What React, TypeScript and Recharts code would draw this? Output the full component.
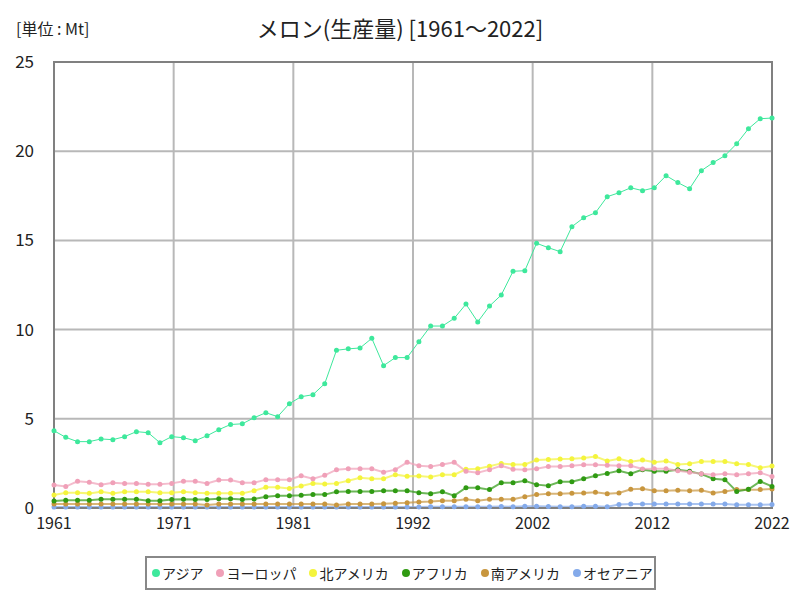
import React from 'react'
import { LineChart, Line, XAxis, YAxis, CartesianGrid, ReferenceArea } from 'recharts'

const YEARS = [
  1961, 1962, 1963, 1964, 1965, 1966, 1967, 1968, 1969, 1970,
  1971, 1972, 1973, 1974, 1975, 1976, 1977, 1978, 1979, 1980,
  1981, 1982, 1983, 1984, 1985, 1986, 1987, 1988, 1989, 1990,
  1991, 1992, 1993, 1994, 1995, 1996, 1997, 1998, 1999, 2000,
  2001, 2002, 2003, 2004, 2005, 2006, 2007, 2008, 2009, 2010,
  2011, 2012, 2013, 2014, 2015, 2016, 2017, 2018, 2019, 2020,
  2021, 2022
]

const ASIA = [
  4.33, 3.96, 3.72, 3.72, 3.87, 3.83, 4.0, 4.28, 4.22, 3.66,
  4.0, 3.94, 3.77, 4.05, 4.39, 4.68, 4.72, 5.06, 5.34, 5.12,
  5.85, 6.24, 6.35, 6.97, 8.84, 8.92, 8.97, 9.51, 7.98, 8.43,
  8.43, 9.32, 10.2, 10.2, 10.63, 11.43, 10.43, 11.32, 11.94, 13.27,
  13.3, 14.84, 14.59, 14.37, 15.77, 16.27, 16.55, 17.45, 17.67, 17.95,
  17.79, 17.95, 18.63, 18.24, 17.9, 18.91, 19.36, 19.75, 20.42, 21.26,
  21.82, 21.86
]

const EUROPE = [
  1.29, 1.2, 1.5, 1.44, 1.31, 1.42, 1.37, 1.37, 1.33, 1.33,
  1.38, 1.5, 1.5, 1.37, 1.57, 1.57, 1.42, 1.42, 1.59, 1.59,
  1.59, 1.81, 1.64, 1.83, 2.15, 2.2, 2.2, 2.2, 2.0, 2.15,
  2.56, 2.37, 2.32, 2.44, 2.56, 2.06, 1.98, 2.15, 2.37, 2.17,
  2.15, 2.2, 2.32, 2.32, 2.37, 2.42, 2.42, 2.39, 2.37, 2.37,
  2.19, 2.2, 2.2, 2.09, 2.0, 1.92, 1.87, 1.92, 1.87, 1.92,
  1.98, 1.76
]

const NORTH_AMERICA = [
  0.73, 0.86, 0.86, 0.82, 0.91, 0.82, 0.91, 0.91, 0.91, 0.86,
  0.86, 0.91, 0.86, 0.82, 0.82, 0.82, 0.82, 0.97, 1.16, 1.16,
  1.1, 1.23, 1.38, 1.34, 1.38, 1.53, 1.7, 1.64, 1.64, 1.87,
  1.78, 1.79, 1.74, 1.87, 1.87, 2.17, 2.2, 2.34, 2.5, 2.44,
  2.44, 2.69, 2.72, 2.74, 2.76, 2.8, 2.88, 2.64, 2.76, 2.6,
  2.69, 2.56, 2.64, 2.44, 2.48, 2.6, 2.6, 2.6, 2.48, 2.44,
  2.26, 2.35
]

const AFRICA = [
  0.39, 0.43, 0.43, 0.43, 0.49, 0.49, 0.49, 0.49, 0.41, 0.41,
  0.47, 0.49, 0.47, 0.47, 0.52, 0.52, 0.47, 0.5, 0.63, 0.69,
  0.69, 0.71, 0.75, 0.75, 0.91, 0.93, 0.93, 0.93, 0.97, 0.97,
  0.97, 0.86, 0.8, 0.91, 0.69, 1.14, 1.14, 1.03, 1.42, 1.42,
  1.53, 1.31, 1.25, 1.47, 1.47, 1.64, 1.81, 1.94, 2.09, 1.92,
  2.15, 2.06, 2.06, 2.15, 2.06, 1.9, 1.64, 1.59, 0.93, 1.05,
  1.49, 1.21
]

const SOUTH_AMERICA = [
  0.22, 0.22, 0.22, 0.22, 0.22, 0.22, 0.22, 0.22, 0.22, 0.22,
  0.22, 0.22, 0.22, 0.17, 0.22, 0.22, 0.22, 0.22, 0.22, 0.22,
  0.22, 0.22, 0.22, 0.22, 0.17, 0.22, 0.22, 0.22, 0.24, 0.27,
  0.29, 0.33, 0.36, 0.41, 0.41, 0.49, 0.41, 0.49, 0.49, 0.49,
  0.63, 0.75, 0.8, 0.8, 0.82, 0.84, 0.88, 0.8, 0.84, 1.05,
  1.08, 0.97, 0.97, 1.0, 0.97, 1.0, 0.84, 0.93, 1.03, 1.03,
  1.03, 1.06
]

const OCEANIA = [
  0.05, 0.05, 0.05, 0.05, 0.05, 0.05, 0.05, 0.05, 0.05, 0.05,
  0.05, 0.05, 0.05, 0.05, 0.05, 0.05, 0.05, 0.05, 0.05, 0.05,
  0.05, 0.05, 0.05, 0.05, 0.05, 0.05, 0.05, 0.05, 0.05, 0.05,
  0.05, 0.06, 0.07, 0.07, 0.07, 0.07, 0.07, 0.07, 0.09, 0.07,
  0.1, 0.1, 0.08, 0.07, 0.07, 0.1, 0.1, 0.07, 0.2, 0.22,
  0.22, 0.22, 0.22, 0.22, 0.22, 0.22, 0.22, 0.22, 0.18, 0.18,
  0.18, 0.19
]

// the x grid splits 1961-2022 into six equal parts, labels are rounded
const X_TICKS = [1961, 1971.1667, 1981.3333, 1991.5, 2001.6667, 2011.8333, 2022]
const Y_TICKS = [0, 5, 10, 15, 20, 25]

const SERIES = [
  { key: 'asia', name: 'アジア', color: '#3ee89c', values: ASIA },
  { key: 'europe', name: 'ヨーロッパ', color: '#f0a0b8', values: EUROPE },
  { key: 'northAmerica', name: '北アメリカ', color: '#f4f43c', values: NORTH_AMERICA },
  { key: 'africa', name: 'アフリカ', color: '#2f9a12', values: AFRICA },
  { key: 'southAmerica', name: '南アメリカ', color: '#c8963e', values: SOUTH_AMERICA },
  { key: 'oceania', name: 'オセアニア', color: '#84aaea', values: OCEANIA }
]

const rows = YEARS.map((year, i) => {
  const row: Record<string, number> = { year }
  SERIES.forEach(s => { row[s.key] = s.values[i] })
  return row
})

const FONT = '"Noto Sans CJK JP", "Noto Sans", sans-serif'

export default function App() {
  return (
    <div style={{ position: 'absolute', left: 0, top: 0, width: 800, height: 600, background: '#fff', fontFamily: FONT }}>
      <div style={{ position: 'absolute', left: 16, top: 16, fontSize: 16, color: '#222', whiteSpace: 'nowrap' }}>[単位 : Mt]</div>
      <div style={{ position: 'absolute', left: 0, width: 800, top: 11, textAlign: 'center', fontSize: 22, color: '#222', whiteSpace: 'nowrap' }}>
        メロン(生産量) [1961～2022]
      </div>

      <LineChart width={800} height={600} data={rows} margin={{ top: 62, right: 28, bottom: 62, left: 0 }}>
        <CartesianGrid stroke="#b8b8b8" strokeWidth={2} />
        <XAxis
          dataKey="year"
          type="number"
          domain={[1961, 2022]}
          ticks={X_TICKS}
          tickFormatter={(v: number) => String(Math.round(v))}
          height={30}
          tickLine={false}
          tickSize={0}
          tickMargin={10}
          axisLine={{ stroke: '#808080', strokeWidth: 2 }}
          tick={{ fill: '#222', fontSize: 16, fontFamily: FONT }}
        />
        <YAxis
          domain={[0, 25]}
          ticks={Y_TICKS}
          width={54}
          tickLine={false}
          tickSize={0}
          tickMargin={20}
          axisLine={{ stroke: '#808080', strokeWidth: 2 }}
          tick={{ fill: '#222', fontSize: 17, fontFamily: FONT }}
        />
        <ReferenceArea x1={1961} x2={2022} y1={0} y2={25} fill="none" stroke="#808080" strokeWidth={2} />
        {SERIES.slice().reverse().map(s => (
          <Line
            key={s.key}
            dataKey={s.key}
            name={s.name}
            type="linear"
            stroke={s.color}
            strokeWidth={s.key === 'asia' ? 1 : 2}
            strokeOpacity={s.key === 'asia' ? 1 : 0.7}
            dot={{ r: 2.5, fill: s.color, stroke: 'none' }}
            activeDot={false}
            isAnimationActive={false}
          />
        ))}
      </LineChart>

      <div
        style={{
          position: 'absolute', left: 145, top: 556, width: 511, height: 34, boxSizing: 'border-box',
          border: '2px solid #888', display: 'flex', alignItems: 'center', paddingLeft: 5, gap: 13,
          fontSize: 14, color: '#222', whiteSpace: 'nowrap'
        }}
      >
        {SERIES.map(s => (
          <span key={s.key} style={{ display: 'flex', alignItems: 'center' }}>
            <span style={{ width: 8, height: 8, borderRadius: 4, background: s.color, marginRight: 2 }} />
            {s.name}
          </span>
        ))}
      </div>
    </div>
  )
}
